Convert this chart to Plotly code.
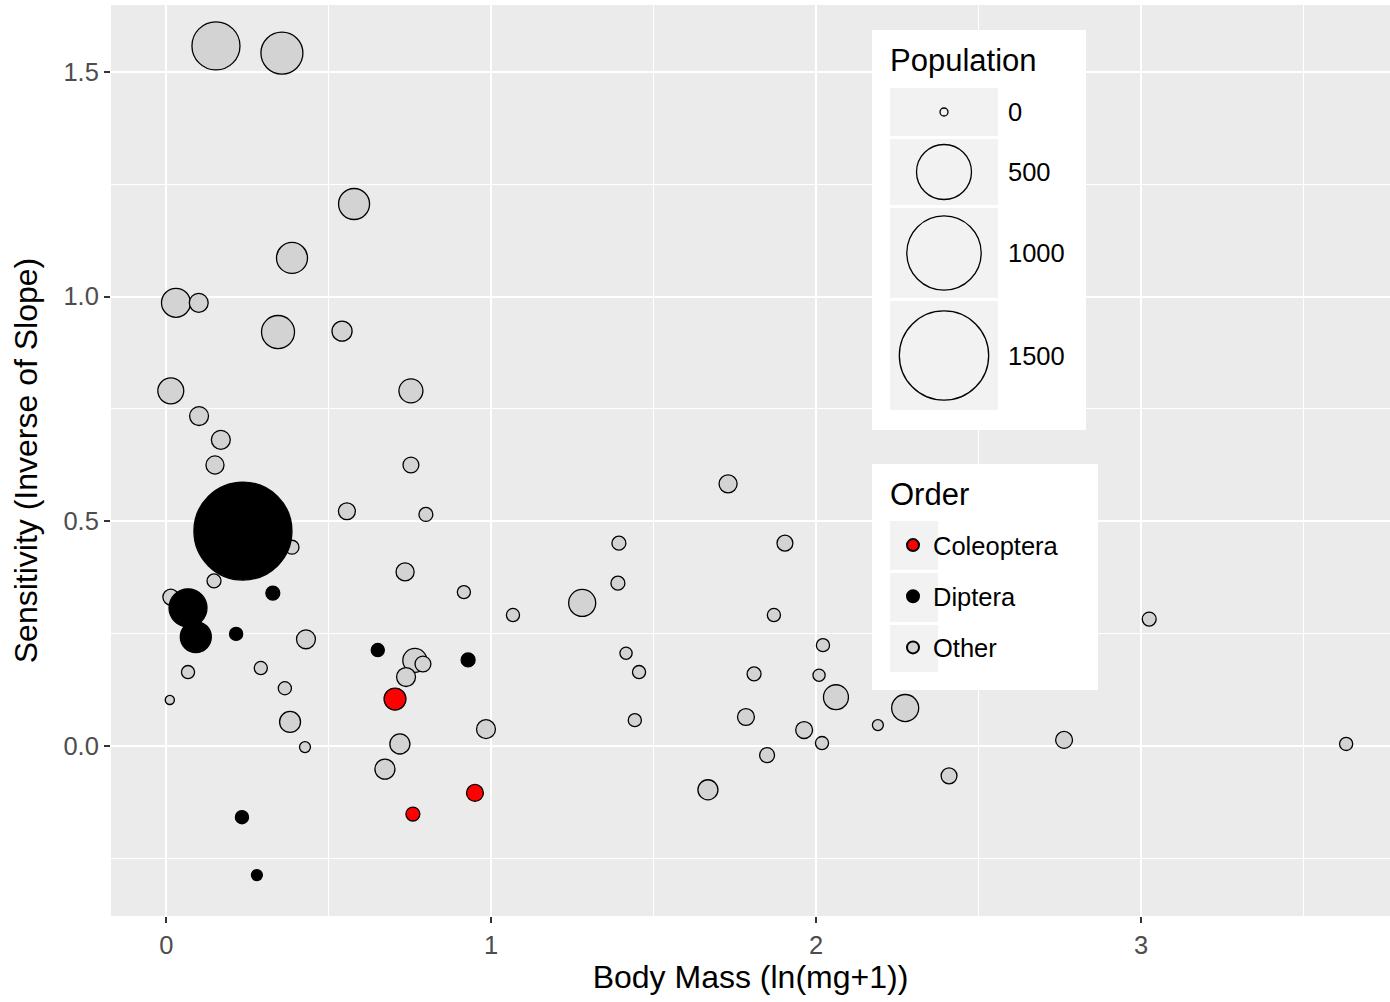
import numpy as np
import plotly.graph_objects as go

# ---------------- data ----------------
other_x = [0.153, 0.356, 0.578, 0.387, 0.030, 0.100, 0.344, 0.541, 0.014, 0.753,
           0.101, 0.168, 0.150, 0.753, 0.556, 0.799, 0.387, 0.735, 0.147, 0.916,
           0.014, 1.067, 0.430, 0.765, 0.790, 0.067, 0.291, 0.738, 0.365, 0.011,
           0.381, 0.984, 0.719, 0.427, 0.673, 1.729, 1.393, 1.904, 1.390, 1.280,
           1.870, 2.021, 1.415, 1.455, 1.809, 2.009, 2.061, 2.274, 1.442, 1.784,
           2.190, 1.963, 2.018, 1.849, 2.409, 1.667, 3.025, 2.763, 3.631]
other_y = [1.558, 1.542, 1.206, 1.086, 0.986, 0.986, 0.921, 0.923, 0.790, 0.790,
           0.734, 0.681, 0.625, 0.625, 0.522, 0.515, 0.442, 0.387, 0.367, 0.342,
           0.331, 0.291, 0.237, 0.190, 0.182, 0.164, 0.173, 0.153, 0.128, 0.102,
           0.053, 0.037, 0.004, -0.003, -0.052, 0.583, 0.451, 0.451, 0.362, 0.318,
           0.291, 0.224, 0.206, 0.164, 0.160, 0.157, 0.108, 0.084, 0.057, 0.064,
           0.046, 0.035, 0.006, -0.021, -0.067, -0.098, 0.282, 0.013, 0.004]
other_pop = [363, 262, 120, 120, 100, 27, 142, 33, 73, 58,
             27, 27, 23, 14, 18, 8, 8, 23, 8, 6,
             14, 6, 27, 58, 14, 6, 6, 27, 6, 0.3,
             38, 27, 33, 2, 33, 23, 8, 14, 8, 82,
             6, 6, 4, 6, 8, 4, 65, 82, 6, 18,
             2, 18, 6, 11, 14, 33, 8, 18, 6]

diptera_x = [0.236, 0.067, 0.091, 0.328, 0.215, 0.651, 0.929, 0.233, 0.279]
diptera_y = [0.478, 0.307, 0.242, 0.340, 0.249, 0.213, 0.191, -0.159, -0.288]
diptera_pop = [1837, 204, 120, 8, 6, 6, 8, 6, 2]

coleoptera_x = [0.704, 0.950, 0.759]
coleoptera_y = [0.104, -0.105, -0.152]
coleoptera_pop = [44, 18, 8]

pop_breaks = [0, 500, 1000, 1500]
order_names = ["Coleoptera", "Diptera", "Other"]
order_colors = {"Coleoptera": "#FF0000", "Diptera": "#000000", "Other": "#D3D3D3"}

# ---------------- geometry ----------------
W, H = 1390, 1002
ML, MR, MT, MB = 111, 0, 5, 86
PW, PH = W - ML - MR, H - MT - MB


def px(x):
    return (x - ML) / PW


def py(y):
    return (H - MB - y) / PH


def msize(p):
    return 8 + 2.1 * np.sqrt(np.asarray(p, dtype=float))


FONT = "Liberation Sans, Arial, Helvetica, sans-serif"

fig = go.Figure()
series = {
    "Other": (other_x, other_y, other_pop),
    "Diptera": (diptera_x, diptera_y, diptera_pop),
    "Coleoptera": (coleoptera_x, coleoptera_y, coleoptera_pop),
}
rank = {"Coleoptera": 1, "Diptera": 2, "Other": 3}
for name in ["Other", "Diptera", "Coleoptera"]:
    xs, ys, ps = series[name]
    fig.add_trace(go.Scatter(
        x=xs, y=ys, mode="markers", name=name,
        legendgroup=name, legendrank=rank[name],
        marker=dict(size=msize(ps), color=order_colors[name], sizemode="diameter",
                    line=dict(color="black", width=1.3), opacity=1),
        hovertemplate="%{x}, %{y}<extra>" + name + "</extra>",
    ))

shapes = []
annotations = []

# ---- Population legend (drawn) ----
shapes.append(dict(type="rect", xref="paper", yref="paper", layer="above",
                   x0=px(872), x1=px(1086), y0=py(430), y1=py(30),
                   fillcolor="white", line=dict(width=0)))
annotations.append(dict(xref="paper", yref="paper", x=px(888), y=py(61),
                        xanchor="left", yanchor="middle", showarrow=False,
                        text="Population", font=dict(size=31, color="black", family=FONT)))
rows = [(88, 136), (139, 205), (208, 298), (301, 410)]
for val, (r0, r1) in zip(pop_breaks, rows):
    shapes.append(dict(type="rect", xref="paper", yref="paper", layer="above",
                       x0=px(890), x1=px(998), y0=py(r1), y1=py(r0),
                       fillcolor="#F2F2F2", line=dict(width=0)))
    d = float(msize(val))
    cy = (r0 + r1) / 2
    shapes.append(dict(type="circle", xref="paper", yref="paper", layer="above",
                       xsizemode="pixel", ysizemode="pixel",
                       xanchor=px(944), yanchor=py(cy),
                       x0=-d / 2, x1=d / 2, y0=-d / 2, y1=d / 2,
                       fillcolor="rgba(0,0,0,0)", line=dict(color="black", width=1.3)))
    annotations.append(dict(xref="paper", yref="paper", x=px(1006), y=py(cy),
                            xanchor="left", yanchor="middle", showarrow=False,
                            text=str(val), font=dict(size=25.5, color="black", family=FONT)))

# ---- Order legend background + title (native legend entries on top) ----
shapes.append(dict(type="rect", xref="paper", yref="paper", layer="above",
                   x0=px(872), x1=px(1098), y0=py(690), y1=py(464),
                   fillcolor="white", line=dict(width=0)))
for r0, r1 in [(521, 570), (573, 622), (625, 672)]:
    shapes.append(dict(type="rect", xref="paper", yref="paper", layer="above",
                       x0=px(890), x1=px(938), y0=py(r1), y1=py(r0),
                       fillcolor="#F2F2F2", line=dict(width=0)))
annotations.append(dict(xref="paper", yref="paper", x=px(888), y=py(494),
                        xanchor="left", yanchor="middle", showarrow=False,
                        text="Order", font=dict(size=31, color="black", family=FONT)))

fig.update_layout(
    width=W, height=H,
    margin=dict(l=ML, r=MR, t=MT, b=MB, autoexpand=False),
    paper_bgcolor="white", plot_bgcolor="#EBEBEB",
    font=dict(family=FONT, color="black"),
    shapes=shapes, annotations=annotations,
    showlegend=True,
    legend=dict(x=px(893), y=py(522), xanchor="left", yanchor="top",
                bgcolor="rgba(0,0,0,0)", borderwidth=0,
                font=dict(size=25.5, color="black", family=FONT),
                traceorder="grouped", tracegroupgap=15, itemsizing="constant"),
    xaxis=dict(range=[-0.170, 3.766], tickmode="array", tickvals=[0, 1, 2, 3],
               ticktext=["0", "1", "2", "3"], showgrid=True, gridcolor="white", gridwidth=2.2,
               minor=dict(tickmode="array", tickvals=[0.5, 1.5, 2.5, 3.5], showgrid=True,
                          gridcolor="white", gridwidth=1.1, ticks=""),
               zeroline=False, showline=False, ticks="outside", ticklen=6, tickwidth=2,
               tickcolor="#333333", tickfont=dict(size=25.5, color="#4D4D4D", family=FONT),
               title=dict(text="Body Mass (ln(mg+1))", font=dict(size=32, color="black", family=FONT),
                          standoff=8),
               automargin=False),
    yaxis=dict(range=[-0.379, 1.649], tickmode="array", tickvals=[0, 0.5, 1.0, 1.5],
               ticktext=["0.0", "0.5", "1.0", "1.5"], showgrid=True, gridcolor="white", gridwidth=2.2,
               minor=dict(tickmode="array", tickvals=[-0.25, 0.25, 0.75, 1.25], showgrid=True,
                          gridcolor="white", gridwidth=1.1, ticks=""),
               zeroline=False, showline=False, ticks="outside", ticklen=6, tickwidth=2,
               tickcolor="#333333", tickfont=dict(size=25.5, color="#4D4D4D", family=FONT),
               title=dict(text="Sensitivity (Inverse of Slope)", font=dict(size=32, color="black", family=FONT),
                          standoff=16),
               automargin=False),
)

fig.write_html("out.html", config={"displayModeBar": False},
               post_script="document.body.style.margin='0';")
